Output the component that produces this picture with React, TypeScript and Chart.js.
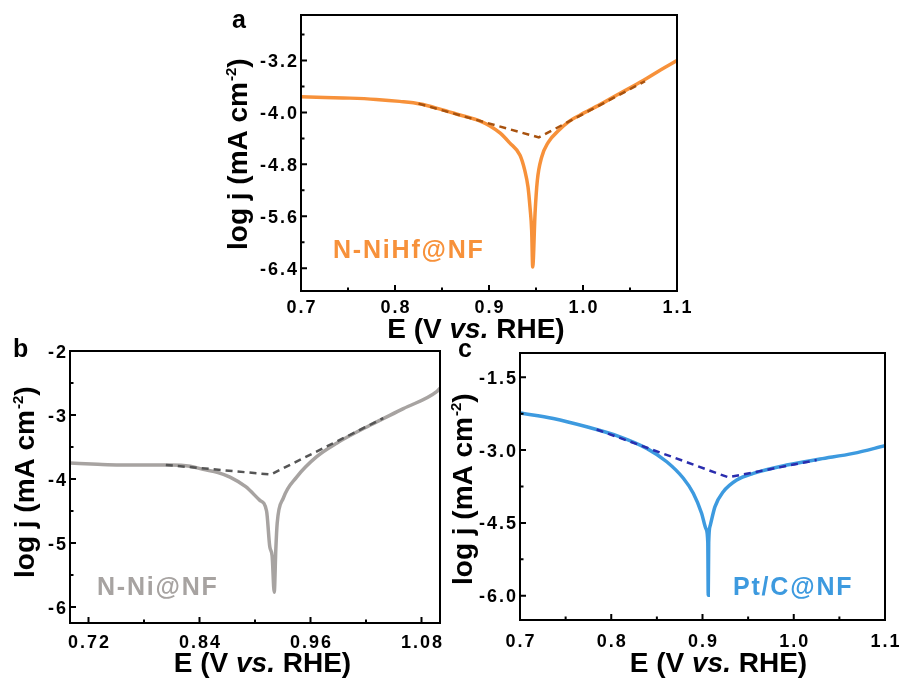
import React, { useEffect, useRef } from "react";
import { Chart, registerables } from "chart.js";

Chart.register(...registerables);

// ---------- Panel a: N-NiHf@NF ----------
const aE = [0.700, 0.725, 0.752, 0.780, 0.805, 0.827, 0.848, 0.869, 0.890, 0.901, 0.912, 0.922, 0.933, 0.938, 0.9415, 0.9436, 0.9454, 0.9465, 0.949, 0.9514, 0.956, 0.963, 0.974, 0.986, 0.997, 1.018, 1.039, 1.064, 1.082, 1.100];
const aLogJ = [-3.76, -3.77, -3.78, -3.80, -3.83, -3.87, -3.95, -4.04, -4.13, -4.21, -4.32, -4.47, -4.66, -4.89, -5.15, -5.46, -5.82, -6.38, -5.55, -5.05, -4.69, -4.46, -4.28, -4.13, -4.04, -3.88, -3.71, -3.51, -3.35, -3.20];
const aFitE = [0.825, 0.953, 1.066];
const aFitLogJ = [-3.865, -4.385, -3.52];
const aXTicks = [0.7, 0.8, 0.9, 1.0, 1.1];
const aXTickLabels = ["0.7", "0.8", "0.9", "1.0", "1.1"];
const aXMinor = [0.75, 0.85, 0.95, 1.05];
const aYTicks = [-3.2, -4.0, -4.8, -5.6, -6.4];
const aYTickLabels = ["-3.2", "-4.0", "-4.8", "-5.6", "-6.4"];
const aYMinor = [-2.8, -3.6, -4.4, -5.2, -6.0];

// ---------- Panel b: N-Ni@NF ----------
const bE = [0.700, 0.730, 0.754, 0.780, 0.808, 0.830, 0.844, 0.860, 0.873, 0.890, 0.905, 0.9125, 0.916, 0.9185, 0.9208, 0.9225, 0.924, 0.9306, 0.945, 0.9667, 0.9883, 1.0243, 1.0604, 1.0964, 1.100];
const bLogJ = [-3.75, -3.77, -3.78, -3.78, -3.78, -3.80, -3.85, -3.90, -3.97, -4.12, -4.33, -4.50, -5.06, -5.20, -5.77, -5.10, -4.69, -4.30, -3.97, -3.65, -3.44, -3.16, -2.90, -2.635, -2.58];
const bFitE = [0.8036, 0.917, 1.0387];
const bFitLogJ = [-3.78, -3.93, -3.05];
const bXTicks = [0.72, 0.84, 0.96, 1.08];
const bXTickLabels = ["0.72", "0.84", "0.96", "1.08"];
const bXMinor = [0.78, 0.90, 1.02];
const bYTicks = [-2, -3, -4, -5, -6];
const bYTickLabels = ["-2", "-3", "-4", "-5", "-6"];
const bYMinor = [-2.5, -3.5, -4.5, -5.5];

// ---------- Panel c: Pt/C@NF ----------
const cE = [0.700, 0.7365, 0.773, 0.8096, 0.8389, 0.8608, 0.879, 0.8899, 0.899, 0.9038, 0.9058, 0.9063, 0.9068, 0.9085, 0.9137, 0.9228, 0.9375, 0.9557, 0.9923, 1.0288, 1.0653, 1.100];
const cLogJ = [-2.234, -2.349, -2.52, -2.726, -2.965, -3.24, -3.58, -3.89, -4.30, -4.62, -4.90, -5.99, -4.90, -4.55, -4.165, -3.857, -3.616, -3.479, -3.308, -3.185, -3.068, -2.91];
const cFitE = [0.784, 0.9283, 1.0251];
const cFitLogJ = [-2.575, -3.561, -3.205];
const cXTicks = [0.7, 0.8, 0.9, 1.0, 1.1];
const cXTickLabels = ["0.7", "0.8", "0.9", "1.0", "1.1"];
const cXMinor = [0.75, 0.85, 0.95, 1.05];
const cYTicks = [-1.5, -3.0, -4.5, -6.0];
const cYTickLabels = ["-1.5", "-3.0", "-4.5", "-6.0"];
const cYMinor = [-2.25, -3.75, -5.25];

const FONT = '"Liberation Sans", Arial, Helvetica, sans-serif';

type PanelCfg = {
  letter: string;
  sample: string;
  E: number[];
  logJ: number[];
  fitE: number[];
  fitLogJ: number[];
  xTicks: number[];
  xTickLabels: string[];
  xMinor: number[];
  yTicks: number[];
  yTickLabels: string[];
  yMinor: number[];
  xMin: number;
  xMax: number;
  yMin: number;
  yMax: number;
  color: string;
  fitColor: string;
  left: number;
  top: number;
  w: number;
  h: number;
  padding: { left: number; top: number; right: number; bottom: number };
  letterPos: [number, number];
  yTitlePos: [number, number];
  xTitlePos: [number, number];
  xLabelOffset: number;
  samplePos: [number, number];
};

const panels: PanelCfg[] = [
  {
    letter: "a", sample: "N-NiHf@NF",
    E: aE, logJ: aLogJ, fitE: aFitE, fitLogJ: aFitLogJ,
    xTicks: aXTicks, xTickLabels: aXTickLabels, xMinor: aXMinor,
    yTicks: aYTicks, yTickLabels: aYTickLabels, yMinor: aYMinor,
    xMin: 0.7, xMax: 1.1, yMin: -6.75, yMax: -2.5,
    color: "#F7913A", fitColor: "#A8520E",
    left: 220, top: 0, w: 480, h: 345,
    padding: { left: 81, top: 15, right: 23, bottom: 54 },
    letterPos: [12, 28], yTitlePos: [27, 250], xTitlePos: [256, 338],
    xLabelOffset: 22, samplePos: [113, 258],
  },
  {
    letter: "b", sample: "N-Ni@NF",
    E: bE, logJ: bLogJ, fitE: bFitE, fitLogJ: bFitLogJ,
    xTicks: bXTicks, xTickLabels: bXTickLabels, xMinor: bXMinor,
    yTicks: bYTicks, yTickLabels: bYTickLabels, yMinor: bYMinor,
    xMin: 0.7, xMax: 1.1, yMin: -6.25, yMax: -2,
    color: "#A7A3A1", fitColor: "#555555",
    left: 0, top: 330, w: 460, h: 349,
    padding: { left: 70, top: 21, right: 20, bottom: 56 },
    letterPos: [13, 27], yTitlePos: [34, 248], xTitlePos: [262.5, 342],
    xLabelOffset: 25, samplePos: [97, 265],
  },
  {
    letter: "c", sample: "Pt/C@NF",
    E: cE, logJ: cLogJ, fitE: cFitE, fitLogJ: cFitLogJ,
    xTicks: cXTicks, xTickLabels: cXTickLabels, xMinor: cXMinor,
    yTicks: cYTicks, yTickLabels: cYTickLabels, yMinor: cYMinor,
    xMin: 0.7, xMax: 1.1, yMin: -6.5, yMax: -1.0,
    color: "#3D9ADF", fitColor: "#2A2DAE",
    left: 450, top: 330, w: 450, h: 349,
    padding: { left: 70, top: 23, right: 15, bottom: 59 },
    letterPos: [8, 27], yTitlePos: [22, 255], xTitlePos: [268.5, 342],
    xLabelOffset: 26.7, samplePos: [283, 265],
  },
];

function framePlugin(cfg: PanelCfg) {
  return {
    id: "frame_" + cfg.letter,
    afterDraw(chart: any) {
      const ctx: CanvasRenderingContext2D = chart.ctx;
      const { left, top, right, bottom } = chart.chartArea;
      const xs = chart.scales.x;
      const ys = chart.scales.y;
      ctx.save();
      // frame
      ctx.strokeStyle = "#000";
      ctx.lineWidth = 2;
      ctx.strokeRect(left, top, right - left, bottom - top);
      // inward ticks
      ctx.beginPath();
      cfg.xTicks.forEach((v) => {
        const px = xs.getPixelForValue(v);
        ctx.moveTo(px, bottom);
        ctx.lineTo(px, bottom - 6);
      });
      cfg.xMinor.forEach((v) => {
        const px = xs.getPixelForValue(v);
        ctx.moveTo(px, bottom);
        ctx.lineTo(px, bottom - 3.5);
      });
      cfg.yTicks.forEach((v) => {
        const py = ys.getPixelForValue(v);
        ctx.moveTo(left, py);
        ctx.lineTo(left + 6, py);
      });
      cfg.yMinor.forEach((v) => {
        const py = ys.getPixelForValue(v);
        ctx.moveTo(left, py);
        ctx.lineTo(left + 3.5, py);
      });
      ctx.stroke();

      // tick labels
      ctx.fillStyle = "#000";
      ctx.font = `bold 18px ${FONT}`;
      (ctx as any).letterSpacing = "2px";
      ctx.textBaseline = "alphabetic";
      ctx.textAlign = "center";
      cfg.xTicks.forEach((v, i) => {
        const px = xs.getPixelForValue(v);
        ctx.fillText(cfg.xTickLabels[i], px + 1, bottom + cfg.xLabelOffset);
      });
      ctx.textAlign = "right";
      cfg.yTicks.forEach((v, i) => {
        const py = ys.getPixelForValue(v);
        ctx.fillText(cfg.yTickLabels[i], left - 2, py + 6.5);
      });

      // sample label
      ctx.font = `bold 25px ${FONT}`;
      (ctx as any).letterSpacing = "1.8px";
      ctx.textAlign = "left";
      ctx.fillStyle = cfg.color;
      ctx.fillText(cfg.sample, cfg.samplePos[0], cfg.samplePos[1]);
      (ctx as any).letterSpacing = "0px";

      // panel letter
      ctx.fillStyle = "#000";
      ctx.font = `bold 25px ${FONT}`;
      ctx.fillText(cfg.letter, cfg.letterPos[0], cfg.letterPos[1]);

      // x title: E (V vs. RHE)
      const bold = `bold 28px ${FONT}`;
      const boldIt = `italic bold 28px ${FONT}`;
      const parts: [string, string][] = [["E (V ", bold], ["vs.", boldIt], [" RHE)", bold]];
      let total = 0;
      const widths = parts.map(([t, f]) => {
        ctx.font = f;
        const w = ctx.measureText(t).width;
        total += w;
        return w;
      });
      let x = cfg.xTitlePos[0] - total / 2;
      parts.forEach(([t, f], i) => {
        ctx.font = f;
        ctx.fillText(t, x, cfg.xTitlePos[1]);
        x += widths[i];
      });

      // y title: log j (mA cm^-2)
      ctx.save();
      ctx.translate(cfg.yTitlePos[0], cfg.yTitlePos[1]);
      ctx.rotate(-Math.PI / 2);
      ctx.font = bold;
      const t1 = "log j (mA cm";
      ctx.fillText(t1, 0, 0);
      let lx = ctx.measureText(t1).width;
      ctx.font = `bold 15px ${FONT}`;
      ctx.fillText("-2", lx + 1, -11);
      lx += ctx.measureText("-2").width + 1;
      ctx.font = bold;
      ctx.fillText(")", lx, 0);
      ctx.restore();

      ctx.restore();
    },
  };
}

function PanelChart({ cfg }: { cfg: PanelCfg }) {
  const ref = useRef<HTMLCanvasElement>(null);
  useEffect(() => {
    const canvas = ref.current;
    if (!canvas) return;
    const curve = cfg.E.map((e, i) => ({ x: e, y: cfg.logJ[i] }));
    const fit = cfg.fitE.map((e, i) => ({ x: e, y: cfg.fitLogJ[i] }));
    const chart = new Chart(canvas, {
      type: "line",
      data: {
        datasets: [
          {
            data: fit,
            borderColor: cfg.fitColor,
            borderWidth: 2.5,
            borderDash: [7, 5],
            pointRadius: 0,
            tension: 0,
            order: 0,
          } as any,
          {
            data: curve,
            borderColor: cfg.color,
            borderWidth: 3.5,
            pointRadius: 0,
            cubicInterpolationMode: "monotone",
            order: 1,
          } as any,
        ],
      },
      options: {
        responsive: false,
        maintainAspectRatio: false,
        animation: false,
        events: [],
        layout: { padding: cfg.padding },
        plugins: {
          legend: { display: false },
          tooltip: { enabled: false },
          title: { display: false },
        },
        scales: {
          x: { type: "linear", display: false, min: cfg.xMin, max: cfg.xMax },
          y: { type: "linear", display: false, min: cfg.yMin, max: cfg.yMax },
        },
      },
      plugins: [framePlugin(cfg)],
    });
    return () => chart.destroy();
  }, [cfg]);
  return (
    <canvas
      ref={ref}
      width={cfg.w}
      height={cfg.h}
      style={{ position: "absolute", left: cfg.left, top: cfg.top, width: cfg.w, height: cfg.h }}
    />
  );
}

export default function App() {
  return (
    <div style={{ position: "absolute", left: 0, top: 0, width: 900, height: 679, background: "#fff" }}>
      {panels.map((p) => (
        <PanelChart key={p.letter} cfg={p} />
      ))}
    </div>
  );
}
